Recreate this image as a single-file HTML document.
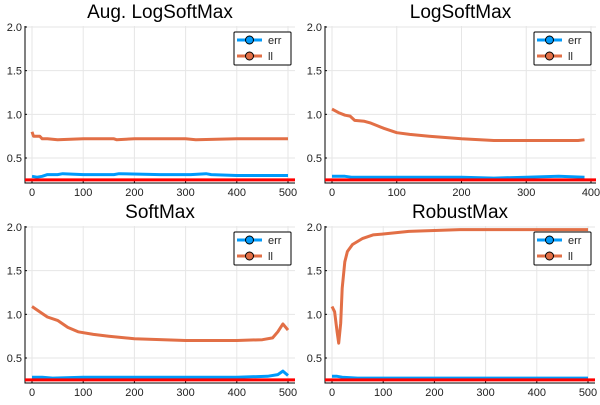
<!DOCTYPE html>
<html><head><meta charset="utf-8"><style>
body{margin:0;background:#fff;width:600px;height:400px;overflow:hidden}
svg{font-family:"Liberation Sans","DejaVu Sans",sans-serif}
</style></head><body>
<svg id="c" width="600" height="400" viewBox="0 0 600 400"></svg>
<script>
const panelTitles=["Aug. LogSoftMax","LogSoftMax","SoftMax","RobustMax"];
const xMaxes=[500,400,500,500];
const xTickVals=[[0,100,200,300,400,500],[0,100,200,300,400],[0,100,200,300,400,500],[0,100,200,300,400,500]];
const yTickVals=[0.5,1.0,1.5,2.0];
const yTickLabels=["0.5","1.0","1.5","2.0"];
const refLine=0.25;
const llX0=[0,3,8,15,20,30,50,100,160,165,200,300,320,400,500];
const llY0=[0.80,0.75,0.75,0.75,0.72,0.72,0.71,0.72,0.72,0.71,0.72,0.72,0.71,0.72,0.72];
const errX0=[0,10,20,30,50,60,100,160,170,250,310,340,350,400,500];
const errY0=[0.29,0.28,0.29,0.31,0.31,0.32,0.31,0.31,0.32,0.31,0.31,0.32,0.31,0.30,0.30];
const llX1=[0,10,20,28,35,50,60,80,100,120,150,200,250,300,370,380,390];
const llY1=[1.06,1.02,0.99,0.98,0.93,0.92,0.90,0.84,0.79,0.77,0.75,0.72,0.70,0.70,0.70,0.70,0.71];
const errX1=[0,20,30,100,200,250,300,350,390];
const errY1=[0.29,0.29,0.28,0.28,0.28,0.27,0.28,0.29,0.28];
const llX2=[0,10,20,30,50,70,90,120,150,200,300,400,450,470,480,490,500];
const llY2=[1.09,1.05,1.01,0.97,0.93,0.85,0.80,0.77,0.75,0.72,0.70,0.70,0.71,0.73,0.80,0.89,0.82];
const errX2=[0,20,40,100,200,300,400,460,480,490,500];
const errY2=[0.28,0.28,0.27,0.28,0.28,0.28,0.28,0.29,0.31,0.35,0.30];
const llX3=[0,5,10,13,17,20,25,30,40,60,80,100,150,200,250,500];
const llY3=[1.09,1.03,0.80,0.67,0.90,1.30,1.60,1.72,1.80,1.87,1.91,1.92,1.95,1.96,1.97,1.97];
const errX3=[0,10,20,50,100,500];
const errY3=[0.29,0.29,0.28,0.27,0.27,0.27];
const llXs=[llX0,llX1,llX2,llX3],llYs=[llY0,llY1,llY2,llY3];
const errXs=[errX0,errX1,errX2,errX3],errYs=[errY0,errY1,errY2,errY3];

const NS="http://www.w3.org/2000/svg";
const svg=document.getElementById("c");
function mk(t,a,p){const e=document.createElementNS(NS,t);for(const k in a)e.setAttribute(k,a[k]);(p||svg).appendChild(e);return e;}
const origins=[[0,0],[300,0],[0,200],[300,200]];
for(let i=0;i<4;i++){
  const [ox,oy]=origins[i];
  const g=mk("g",{transform:`translate(${ox},${oy})`});
  
  
  const L=25,R=i==1?296:295,T=26,B=183;
  const x0px=32, xEndPx=i==1?291:288;
  const sx=v=>x0px+(v)*(xEndPx-x0px)/(xMaxes[i]);
  const sy=v=>27+(2.0-v)*(158-27)/1.5;
  xTickVals[i].forEach(v=>{const l=mk("line",{x1:sx(v),x2:sx(v),y1:T,y2:B,stroke:"#e6e6e6","stroke-width":1},g);});
  yTickVals.forEach(v=>{const l=mk("line",{x1:L,x2:R,y1:sy(v),y2:sy(v),stroke:"#e6e6e6","stroke-width":1},g);});
  const ax=mk("path",{d:`M${L},${T} V${B} H${R}`,fill:"none",stroke:"#000","stroke-width":1},g);
  
  xTickVals[i].forEach(v=>{mk("line",{x1:sx(v),x2:sx(v),y1:B,y2:B-2,stroke:"#000"},g);const t=mk("text",{x:sx(v),y:B+13,"text-anchor":"middle","font-size":11,fill:"#222"},g);t.textContent=v;});
  yTickVals.forEach((v,j)=>{mk("line",{x1:L,x2:L+2,y1:sy(v),y2:sy(v),stroke:"#000"},g);const t=mk("text",{x:L-3,y:sy(v)+4,"text-anchor":"end","font-size":11,fill:"#222"},g);t.textContent=yTickLabels[j];});
  const tt=mk("text",{x:(L+R)/2,y:18,"text-anchor":"middle","font-size":19,fill:"#000"},g);tt.textContent=panelTitles[i];
  
  const pts=(xs,ys)=>xs.map((x,k)=>sx(x).toFixed(1)+","+sy(ys[k]).toFixed(1)).join(" ");
  const e=mk("polyline",{points:pts(errXs[i],errYs[i]),fill:"none",stroke:"#009AFA","stroke-width":3,"stroke-linejoin":"round"},g);
  
  const l=mk("polyline",{points:pts(llXs[i],llYs[i]),fill:"none",stroke:"#E26F46","stroke-width":3,"stroke-linejoin":"round"},g);
  
  const r=mk("line",{x1:L,x2:R,y1:sy(refLine),y2:sy(refLine),stroke:"#FF0000","stroke-width":3},g);
  
  const lg=mk("g",{},g);
  mk("rect",{x:234,y:32,width:57,height:33,fill:"#fff",stroke:"#000","stroke-width":1,rx:1},lg);
  [["err","#009AFA",40],["ll","#E26F46",56]].forEach(([n,c,y])=>{
    mk("line",{x1:237,x2:262,y1:y,y2:y,stroke:c,"stroke-width":3},lg);
    mk("circle",{cx:249.5,cy:y,r:4,fill:c,stroke:"#000","stroke-width":1},lg);
    const t=mk("text",{x:268,y:y+4,"font-size":11,fill:"#222"},lg);t.textContent=n;
    
  });
}
</script>
</body></html>
